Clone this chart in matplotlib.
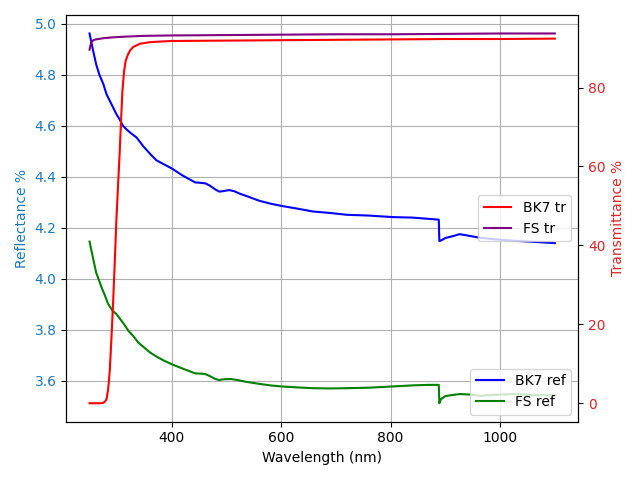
import matplotlib
matplotlib.use("Agg")
import matplotlib.pyplot as plt

# Reflectance (left axis)
bk7_ref_wl = [250, 256, 262, 268, 275, 281, 290, 299, 305, 311, 318, 325, 336, 348, 361,
              372, 385, 400, 420, 443, 455, 462, 470, 480, 487, 495, 505, 515, 523, 540, 560,
              580, 600, 630, 658, 690, 720, 760, 803, 840, 870, 888, 889, 892, 900, 915,
              926, 940, 960, 990, 1027, 1060, 1100]
bk7_ref = [4.962, 4.90, 4.842, 4.80, 4.765, 4.724, 4.685, 4.646, 4.625, 4.600, 4.585, 4.572,
           4.554, 4.52, 4.489, 4.465, 4.45, 4.433, 4.405, 4.378, 4.376, 4.374, 4.365, 4.350,
           4.342, 4.344, 4.348, 4.343, 4.335, 4.322, 4.306, 4.295, 4.286, 4.275, 4.264,
           4.258, 4.251, 4.248, 4.242, 4.24, 4.235, 4.232, 4.148, 4.150, 4.160, 4.168,
           4.175, 4.170, 4.162, 4.155, 4.149, 4.145, 4.140]

fs_ref_wl = [250, 256, 262, 268, 272, 278, 284, 292, 299, 305, 312, 321, 330, 339, 350,
             360, 370, 385, 400, 420, 443, 455, 462, 470, 480, 487, 495, 508, 520, 536, 560,
             580, 600, 630, 658, 690, 720, 760, 806, 840, 870, 888, 889, 892, 900, 915, 927,
             945, 965, 990, 1027, 1060, 1100]
fs_ref = [4.146, 4.085, 4.025, 3.99, 3.966, 3.935, 3.901, 3.875, 3.862, 3.845, 3.825, 3.796,
          3.775, 3.750, 3.73, 3.712, 3.698, 3.68, 3.665, 3.648, 3.629, 3.628, 3.626, 3.618,
          3.607, 3.603, 3.606, 3.607, 3.603, 3.596, 3.588, 3.582, 3.578, 3.574, 3.571, 3.570,
          3.571, 3.573, 3.578, 3.582, 3.584, 3.584, 3.512, 3.528, 3.540, 3.545, 3.548,
          3.546, 3.541, 3.545, 3.548, 3.544, 3.543]

# Transmittance (right axis)
bk7_tr_wl = [250, 260, 270, 275, 278, 281, 284, 287, 290, 293, 296, 299, 302, 305, 308,
             310, 313, 316, 320, 324, 330, 342, 360, 385, 400, 500, 600, 700, 806, 900, 1000, 1100]
bk7_tr = [0.0, 0.0, 0.0, 0.1, 0.4, 1.0, 3.5, 8.4, 16.5, 25.3, 35.5, 46.3, 55.0, 63.3, 73.0,
          79.0, 84.0, 86.8, 88.3, 89.4, 90.3, 91.1, 91.5, 91.7, 91.8, 91.9, 92.0, 92.1, 92.2,
          92.3, 92.3, 92.4]

fs_tr_wl = [250, 253, 257, 261, 266, 275, 290, 315, 350, 400, 500, 600, 700, 806, 900, 1000, 1100]
fs_tr = [89.6, 91.5, 92.0, 92.2, 92.3, 92.5, 92.7, 92.9, 93.1, 93.2, 93.3, 93.4, 93.5, 93.5,
         93.6, 93.7, 93.7]

fig, ax1 = plt.subplots(figsize=(6.4, 4.8))

ax1.plot(bk7_ref_wl, bk7_ref, color='blue', label='BK7 ref')
ax1.plot(fs_ref_wl, fs_ref, color='green', label='FS ref')
ax1.set_xlabel('Wavelength (nm)')
ax1.set_ylabel('Reflectance %', color='tab:blue')
ax1.tick_params(axis='y', labelcolor='tab:blue')
ax1.grid(True)
ax1.legend(loc='lower right')

ax2 = ax1.twinx()
ax2.plot(bk7_tr_wl, bk7_tr, color='red', label='BK7 tr')
ax2.plot(fs_tr_wl, fs_tr, color='purple', label='FS tr')
ax2.set_ylabel('Transmittance %', color='tab:red')
ax2.tick_params(axis='y', labelcolor='tab:red')
ax2.legend(loc='center right')

fig.tight_layout()
fig.savefig('out.png', dpi=100)
